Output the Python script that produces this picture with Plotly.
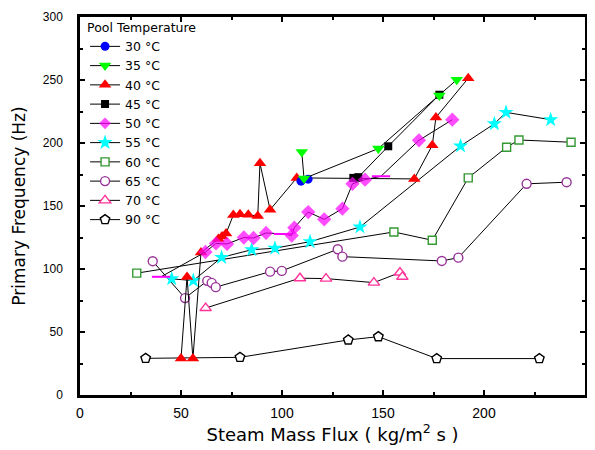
import plotly.graph_objects as go

# ---- data (Steam mass flux kg/m2s, primary frequency Hz) ----
t30_x = [109.4, 112.9]
t30_y = [169.7, 171.3]

t35_x = [109.8, 110.9, 147.7, 177.9, 186.5]
t35_y = [192.9, 171.8, 195.6, 237.7, 250.2]

t40_x = [50.0, 53.0, 55.9, 59.9, 68.5, 70.3, 72.3, 75.9, 79.2, 83.3, 88.0, 89.1, 94.1, 107.3, 165.5, 174.4, 176.2, 192.2]
t40_y = [28.9, 93.7, 28.9, 113.1, 123.8, 125.8, 128.2, 142.8, 143.4, 143.0, 142.0, 183.9, 147.0, 172.3, 171.5, 198.2, 220.3, 251.4]

t45_x = [135.3, 137.8, 152.6, 177.9]
t45_y = [172.3, 172.9, 197.4, 238.3]

t50_x = [40.1, 62.1, 67.3, 72.8, 81.1, 85.9, 92.1, 100.5, 104.8, 106.1, 113.0, 120.9, 129.9, 134.9, 141.1, 149.0, 167.8, 184.3]
t50_y = [93.8, 113.5, 120.3, 119.9, 125.0, 124.6, 128.6, 127.8, 126.6, 132.8, 145.2, 139.4, 147.9, 167.6, 170.9, 173.6, 202.1, 218.5]
t50_dash = [1, 0, 0, 0, 0, 0, 0, 1, 0, 0, 0, 0, 0, 0, 0, 1, 0, 0]

t55_x = [45.4, 56.1, 70.1, 85.0, 96.5, 113.9, 138.6, 188.4, 205.1, 210.9, 233.0]
t55_y = [92.2, 90.8, 109.2, 115.3, 116.5, 121.7, 133.3, 197.6, 215.2, 224.3, 218.5]

t60_x = [28.1, 155.4, 174.4, 192.2, 211.2, 217.3, 243.1]
t60_y = [96.7, 129.4, 122.8, 172.3, 196.6, 202.4, 200.6]

t65_x = [36.0, 52.0, 63.0, 65.2, 67.2, 94.1, 99.9, 127.6, 129.9, 179.1, 187.3, 221.1, 240.9]
t65_y = [106.2, 76.9, 90.6, 89.0, 85.6, 97.9, 98.5, 115.7, 109.8, 106.4, 109.0, 167.6, 168.9]

t70_x = [62.2, 108.9, 121.8, 145.5, 158.4, 159.6]
t70_y = [69.0, 92.7, 92.4, 89.2, 97.2, 93.8]

t90_x = [32.5, 79.2, 132.8, 147.7, 176.6, 227.4]
t90_y = [29.1, 29.9, 43.7, 46.3, 28.9, 28.9]

x_ticks = [0, 50, 100, 150, 200, 250]
y_ticks = [0, 50, 100, 150, 200, 250, 300]

FONT = "Liberation Sans, Arial, sans-serif"
WIDE = "DejaVu Sans, Liberation Sans, sans-serif"

fig = go.Figure()


def add(name, xs, ys, symbol, color, size, rank, open_marker=False, sizes=None):
    if open_marker:
        marker = dict(symbol=symbol, size=size, color="white",
                      line=dict(color=color, width=1.4))
    else:
        marker = dict(symbol=symbol, size=sizes if sizes is not None else size,
                      color=color, line=dict(width=0))
    fig.add_trace(go.Scatter(
        x=xs, y=ys, name=name, mode="lines+markers",
        line=dict(color="black", width=1),
        marker=marker, legendrank=rank))


# draw order (bottom -> top); legend ordered by rank
add("90 °C", t90_x, t90_y, "pentagon", "black", 10, 10, open_marker=True)
add("70 °C", t70_x, t70_y, "triangle-up", "#FF3399", 10, 9, open_marker=True)
add("65 °C", t65_x, t65_y, "circle", "#993399", 9, 8, open_marker=True)
add("60 °C", t60_x, t60_y, "square", "#339933", 8, 7, open_marker=True)
add("55 °C", t55_x, t55_y, "star", "#00FFFF", 11.5, 6)
add("40 °C", t40_x, t40_y, "triangle-up", "#FF0000", 11, 3)
add("45 °C", t45_x, t45_y, "square", "black", 8, 4)
add("30 °C", t30_x, t30_y, "circle", "#0000FF", 9, 1)
sizes50 = [0 if d else 11 for d in t50_dash]
add("50 °C", t50_x, t50_y, "diamond", "#FF00FF", 11, 5, sizes=sizes50)
fig.add_trace(go.Scatter(
    x=[x for x, d in zip(t50_x, t50_dash) if d],
    y=[y for y, d in zip(t50_y, t50_dash) if d],
    mode="markers", showlegend=False, hoverinfo="skip",
    marker=dict(symbol="line-ew", size=13, color="#FF00FF",
                line=dict(color="#FF00FF", width=2))))
add("35 °C", t35_x, t35_y, "triangle-down", "#00FF00", 11, 2)

axis_common = dict(
    showline=True, linecolor="black", linewidth=2.5, mirror="ticks",
    ticks="inside", ticklen=5, tickwidth=2, tickcolor="black",
    showgrid=False, zeroline=False, automargin=False,
)

fig.update_xaxes(
    range=[0, 250], tickvals=x_ticks,
    ticktext=[str(v) for v in x_ticks],
    tickfont=dict(family=FONT, size=14, color="black"),
    ticklabelstandoff=3,
    minor=dict(dtick=25, tick0=0, ticks="inside", ticklen=3, tickwidth=1.5,
               tickcolor="black", showgrid=False),
    title=dict(text="Steam Mass Flux ( kg/m<sup>2</sup> s )",
               font=dict(family=WIDE, size=18, color="black"), standoff=9),
    **axis_common)

fig.update_yaxes(
    range=[0, 300], tickvals=y_ticks,
    ticktext=[str(v) for v in y_ticks],
    tickfont=dict(family=FONT, size=12, color="black"),
    ticklabelstandoff=12,
    minor=dict(dtick=25, tick0=0, ticks="inside", ticklen=3, tickwidth=1.5,
               tickcolor="black", showgrid=False),
    title=dict(text="Primary Frequency (Hz)",
               font=dict(family=WIDE, size=17, color="black"), standoff=13),
    **axis_common)

# page has an 8px body margin, so the figure is sized to fit the 595x450 window
fig.update_layout(
    width=587, height=442,
    margin=dict(l=72, r=10, t=7, b=55),
    paper_bgcolor="white", plot_bgcolor="white",
    font=dict(family=FONT, color="black"),
    legend=dict(
        x=0.01, y=1.004, xanchor="left", yanchor="top",
        bgcolor="rgba(0,0,0,0)", borderwidth=0,
        font=dict(family=WIDE, size=12.5, color="black"),
        title=dict(text="Pool Temperature", font=dict(family=WIDE, size=12.5)),
        itemwidth=30, tracegroupgap=0,
    ),
)

fig.write_html("out.html")
